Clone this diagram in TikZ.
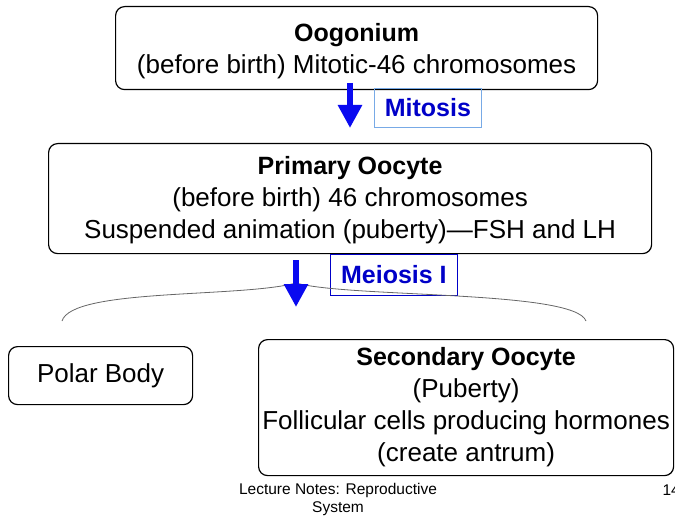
\documentclass[tikz,border=0pt]{standalone}
\usepackage{fontspec}
\setmainfont{Liberation Sans}
\usetikzlibrary{arrows.meta}
\definecolor{arrowblue}{RGB}{10,10,240}
\definecolor{labelblue}{RGB}{0,0,200}
\definecolor{lightframe}{RGB}{120,170,230}
\newcommand{\ttl}[1]{{\fontsize{25}{32}\selectfont\bfseries #1}}
\tikzset{
  stagebox/.style={draw=black, line width=1.2pt, rounded corners=9pt, inner sep=0pt},
  stagetext/.style={align=center, font=\fontsize{26}{32}\selectfont},
  bigarrow/.style={draw=arrowblue, line width=6.5pt, -{Triangle[width=23pt,length=23pt]}},
  steplabel/.style={draw=#1, line width=0.8pt, text=labelblue, font=\fontsize{25}{28}\selectfont\bfseries, inner sep=0pt, anchor=north west},
  brace/.style={draw=black!60, line width=0.8pt},
  foottext/.style={font=\fontsize{15.5}{18}\selectfont},
}
\begin{document}
\begin{tikzpicture}[x=1pt,y=-1pt]
\useasboundingbox (0,0) rectangle (675,516);
\node[stagebox, minimum width=482pt, minimum height=83pt, anchor=north west] (oog) at (115,6) {};
\node[stagetext, yshift=-3pt] (oogt) at (oog.center) {\ttl{Oogonium}\\(before birth) Mitotic-46 chromosomes};

\node[stagebox, minimum width=603pt, minimum height=110pt, anchor=north west] (prim) at (48,143) {};
\node[stagetext, yshift=-2pt] (primt) at (prim.center) {\ttl{Primary Oocyte}\\(before birth) 46 chromosomes\\Suspended animation (puberty)---FSH and LH};

\node[stagebox, minimum width=184pt, minimum height=58pt, anchor=north west, font=\fontsize{26}{31}\selectfont] (polar) at (8,346) {Polar Body};

\node[stagebox, minimum width=415pt, minimum height=136pt, anchor=north west] (sec) at (258,339) {};
\node[stagetext] (sect) at (sec.center) {\ttl{Secondary Oocyte}\\(Puberty)\\Follicular cells producing hormones\\(create antrum)};

\node[steplabel=lightframe, minimum width=107pt, minimum height=39pt] (mit) at (374,88) {Mitosis};
\node[steplabel=labelblue, minimum width=127pt, minimum height=41pt] (mei) at (330,254) {Meiosis I};

\coordinate (a1s) at (350,83);
\coordinate (a1e) at (350,128);
\draw[bigarrow] (a1s) -- (a1e);
\coordinate (a2s) at (296,260);
\coordinate (a2e) at (296,307);

\coordinate (bl) at (62,321);
\coordinate (bm) at (296,283);
\coordinate (br) at (586,321);
\draw[brace] (bl) .. controls (72,288) and (240,298) .. (bm) .. controls (350,298) and (575,290) .. (br);
\draw[bigarrow] (a2s) -- (a2e);

\node[foottext, align=center] (foot) at (338,499) {Lecture Notes: Reproductive\\System};
\node[foottext, anchor=west] (pg) at (659,490) {14};
\end{tikzpicture}
\end{document}
